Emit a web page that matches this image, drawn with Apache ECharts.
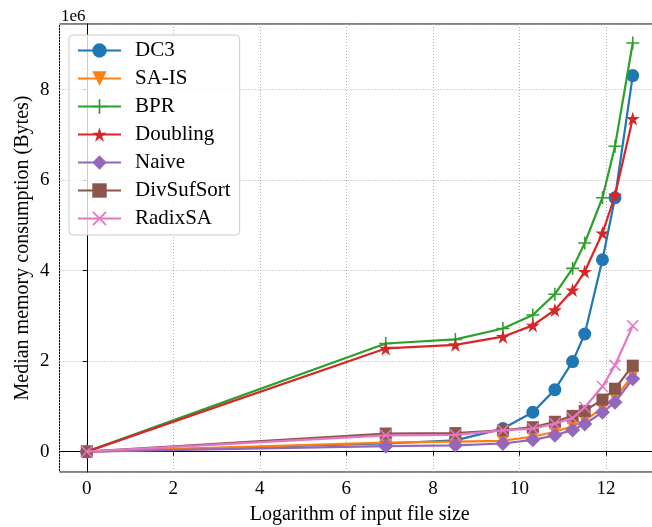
<!DOCTYPE html>
<html>
<head>
<meta charset="utf-8">
<script src="https://cdn.jsdelivr.net/npm/echarts@6/dist/echarts.min.js"></script>
<style>html,body{margin:0;padding:0;background:#fff}#c{width:652px;height:527px}</style>
</head>
<body>
<div id="c"></div>
<script>
// x: logarithm of input file size
const xs = [0, 6.91, 8.52, 9.62, 10.31, 10.82, 11.23, 11.51, 11.92, 12.21, 12.62];
// median memory consumption, in units of 1e6 bytes
const dc3        = [0, 0.18, 0.25, 0.51, 0.87, 1.37, 1.99, 2.60, 4.24, 5.61, 8.31];
const sais       = [0, 0.20, 0.22, 0.24, 0.33, 0.44, 0.56, 0.69, 0.96, 1.19, 1.68];
const bpr        = [0, 2.39, 2.48, 2.72, 3.02, 3.48, 4.05, 4.61, 5.61, 6.75, 9.03];
const doubling   = [0, 2.28, 2.36, 2.54, 2.79, 3.13, 3.57, 3.98, 4.83, 5.66, 7.36];
const naive      = [0, 0.12, 0.14, 0.18, 0.26, 0.36, 0.48, 0.61, 0.87, 1.09, 1.61];
const divsufsort = [0, 0.40, 0.41, 0.47, 0.54, 0.66, 0.79, 0.90, 1.15, 1.39, 1.90];
const radixsa    = [0, 0.36, 0.37, 0.47, 0.51, 0.62, 0.74, 0.98, 1.44, 1.91, 2.78];
const SCALE = 1e6;
const seriesNames = ['DC3', 'SA-IS', 'BPR', 'Doubling', 'Naive', 'DivSufSort', 'RadixSA'];
const seriesValues = [dc3, sais, bpr, doubling, naive, divsufsort, radixsa];
const colors = ['#1f77b4', '#ff7f0e', '#2ca02c', '#d62728', '#9467bd', '#8c564b', '#e377c2'];

const STAR = 'path://M100,0 L122.45,69.1 L195.1,69.1 L136.3,111.8 L158.8,180.9 L100,138.2 L41.2,180.9 L63.7,111.8 L4.9,69.1 L77.55,69.1 Z';
const PLUS = 'path://M4.4,0 H5.6 V4.4 H10 V5.6 H5.6 V10 H4.4 V5.6 H0 V4.4 H4.4 Z';
const CROSS = 'path://M0,0.9 L0.9,0 L5,4.1 L9.1,0 L10,0.9 L5.9,5 L10,9.1 L9.1,10 L5,5.9 L0.9,10 L0,9.1 L4.1,5 Z';
const symbols = [
  {symbol: 'circle', size: 13, rotate: 0},
  {symbol: 'triangle', size: 13, rotate: 180},
  {symbol: PLUS, size: 13, rotate: 0},
  {symbol: STAR, size: 14, rotate: 0},
  {symbol: 'diamond', size: 15, rotate: 0},
  {symbol: 'rect', size: 12, rotate: 0},
  {symbol: CROSS, size: 12, rotate: 0}
];

const FONT = '"Liberation Serif", "DejaVu Serif", serif';
const chart = echarts.init(document.getElementById('c'), null, {renderer: 'canvas'});

const series = seriesNames.map((name, i) => ({
  name: name,
  type: 'line',
  data: xs.map((x, j) => [x, seriesValues[i][j] * SCALE]),
  color: colors[i],
  lineStyle: {width: 2.2, color: colors[i]},
  itemStyle: {color: colors[i]},
  symbol: symbols[i].symbol,
  symbolSize: symbols[i].size,
  symbolRotate: symbols[i].rotate,
  showAllSymbol: true,
  animation: false,
  z: 2 + i
}));

chart.setOption({
  animation: false,
  backgroundColor: '#fff',
  title: {
    text: '1e6', left: 56, top: 3,
    textStyle: {fontFamily: FONT, fontSize: 17, fontWeight: 'normal', color: '#000'}
  },
  grid: {
    left: 59.5, top: 24, width: 600.5, height: 448,
    outerBoundsMode: 'none',
    containLabel: false,
    show: true, borderColor: '#000', borderWidth: 1, backgroundColor: 'transparent'
  },
  legend: {
    orient: 'vertical',
    left: 69, top: 35,
    padding: [5, 9, 6, 8],
    itemGap: 7,
    itemWidth: 43,
    itemHeight: 18,
    borderColor: '#cccccc', borderWidth: 1, borderRadius: 4,
    backgroundColor: 'rgba(255,255,255,0.8)',
    textStyle: {fontFamily: FONT, fontSize: 21, color: '#000', padding: [0, 0, 0, 9]},
    data: seriesNames
  },
  xAxis: {
    type: 'value',
    min: -0.631, max: 13.25,
    splitNumber: 7,
    name: 'Logarithm of input file size',
    nameLocation: 'middle',
    nameGap: 33,
    nameMoveOverlap: false,
    nameTextStyle: {fontFamily: FONT, fontSize: 20, color: '#000'},
    axisLine: {show: true, lineStyle: {color: '#000', width: 1}},
    axisTick: {show: true, length: 4, lineStyle: {color: '#000'}},
    axisLabel: {fontFamily: FONT, fontSize: 19, color: '#000', margin: 8, showMinLabel: false, showMaxLabel: false},
    splitLine: {show: true, lineStyle: {color: '#b0b0b0', type: [1, 2], width: 1}}
  },
  yAxis: {
    type: 'value',
    min: -0.45 * SCALE, max: 9.45 * SCALE,
    splitNumber: 5,
    name: 'Median memory consumption (Bytes)',
    nameLocation: 'middle',
    nameGap: 27,
    nameMoveOverlap: false,
    nameTextStyle: {fontFamily: FONT, fontSize: 20, color: '#000'},
    axisLine: {show: true, lineStyle: {color: '#000', width: 1}},
    axisTick: {show: true, length: 4, lineStyle: {color: '#000'}},
    axisLabel: {fontFamily: FONT, fontSize: 19, color: '#000', margin: 10, showMinLabel: false, showMaxLabel: false,
      formatter: v => String(Math.round(v / SCALE))},
    splitLine: {show: true, lineStyle: {color: '#b0b0b0', type: [1, 2], width: 1}}
  },
  series: series
});
</script>
</body>
</html>
